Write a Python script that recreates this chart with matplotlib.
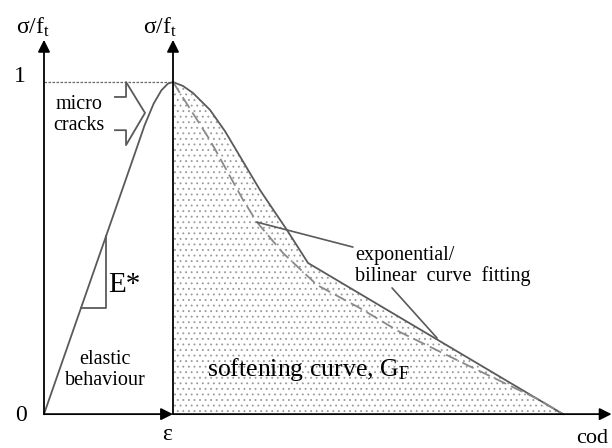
import matplotlib
matplotlib.use("Agg")
import matplotlib.pyplot as plt

plt.rcParams['font.family'] = ['Liberation Serif', 'DejaVu Serif']
plt.rcParams['mathtext.fontset'] = 'custom'
plt.rcParams['mathtext.rm'] = 'Liberation Serif'
plt.rcParams['mathtext.it'] = 'Liberation Serif:italic'
plt.rcParams['hatch.linewidth'] = 0.6

# x: 0 = origin, 1 = strain at peak (eps); y: sigma / f_t
elastic_x = [0.0, 0.70, 0.78, 0.85, 0.91, 0.96, 1.0]
elastic_y = [0.0, 0.78, 0.87, 0.935, 0.975, 0.995, 1.0]

# softening (bilinear-ish, solid)
soft_x = [1.0, 1.078, 1.155, 1.287, 1.403, 1.674, 1.884, 2.047, 4.023]
soft_y = [1.0, 0.988, 0.967, 0.916, 0.852, 0.675, 0.554, 0.455, 0.0]

# exponential fit (dashed)
exp_x = [1.0, 1.054, 1.287, 1.543, 1.651, 1.853, 2.116, 2.450, 2.760, 3.279, 3.845, 4.023]
exp_y = [1.0, 0.967, 0.825, 0.645, 0.578, 0.485, 0.389, 0.319, 0.247, 0.148, 0.042, 0.0]

# micro cracks bracket and E* triangle
brace_x = [0.550, 0.636, 0.636, 0.783, 0.636, 0.636, 0.550]
brace_y = [0.955, 0.955, 1.0, 0.907, 0.810, 0.855, 0.855]
tri_x = [0.286, 0.481, 0.481]
tri_y = [0.319, 0.319, 0.536]

x_end = 4.40
y_top = 1.127

fig = plt.figure(figsize=(6.12, 4.48), dpi=100)
ax = fig.add_axes([0, 0, 1, 1])
ax.set_xlim(-0.341, 4.403)
ax.set_ylim(-0.102, 1.247)
ax.axis('off')

curve_c = '#5a5a5a'

# dotted area under softening curve
ax.fill_between(soft_x, 0, soft_y, facecolor='none', edgecolor='#999999',
                hatch='...', linewidth=0)

ax.plot(elastic_x, elastic_y, color=curve_c, lw=1.3)
ax.plot(soft_x, soft_y, color=curve_c, lw=1.3)
ax.plot(exp_x, exp_y, color='#8a8a8a', lw=1.3, dashes=(7, 3))
ax.plot([0, 1], [1, 1], color='#666666', lw=0.9, dashes=(2, 1.2))
ax.plot(brace_x, brace_y, color=curve_c, lw=1.3)
ax.plot(tri_x, tri_y, color=curve_c, lw=1.3)

# axes with arrows
arr = dict(arrowstyle='-|>', color='black', lw=1.3, mutation_scale=18,
           shrinkA=0, shrinkB=0)
ax.annotate('', xy=(0, y_top), xytext=(0, 0), arrowprops=arr)
ax.annotate('', xy=(1, y_top), xytext=(1, 0), arrowprops=arr)
ax.annotate('', xy=(1, 0), xytext=(0, 0), arrowprops=arr)
ax.annotate('', xy=(x_end, 0), xytext=(1, 0), arrowprops=arr)

# pointer lines
line = dict(arrowstyle='-', color=curve_c, lw=1.2, shrinkA=0, shrinkB=0)
ax.annotate('', xy=(1.651, 0.578), xytext=(2.395, 0.503), arrowprops=line)
ax.annotate('', xy=(3.047, 0.229), xytext=(2.698, 0.380), arrowprops=line)

# labels
ax.text(-0.085, 1.166, 'σ/f$_\\mathrm{t}$', fontsize=17, ha='center', va='center')
ax.text(0.899, 1.166, 'σ/f$_\\mathrm{t}$', fontsize=17, ha='center', va='center')
ax.text(-0.186, 1.018, '1', fontsize=17, ha='center', va='center')
ax.text(-0.178, -0.003, '0', fontsize=17, ha='center', va='center')
ax.text(0.953, -0.060, 'ε', fontsize=17, ha='center', va='center')
ax.text(4.125, -0.074, 'cod', fontsize=16, ha='left', va='center')
ax.text(0.271, 0.900, 'micro\ncracks', fontsize=14.5, ha='center', va='center',
        linespacing=1.15)
ax.text(0.473, 0.133, 'elastic\nbehaviour', fontsize=14.5, ha='center',
        va='center', linespacing=1.15)
ax.text(0.62, 0.389, 'E*', fontsize=21, ha='center', va='center')
ax.text(1.264, 0.133, 'softening curve, G$_\\mathrm{F}$', fontsize=18.5,
        ha='left', va='center')
ax.text(2.411, 0.446, 'exponential/\nbilinear  curve  fitting', fontsize=14.5,
        ha='left', va='center', linespacing=1.1)

fig.savefig('out.png', dpi=100)
